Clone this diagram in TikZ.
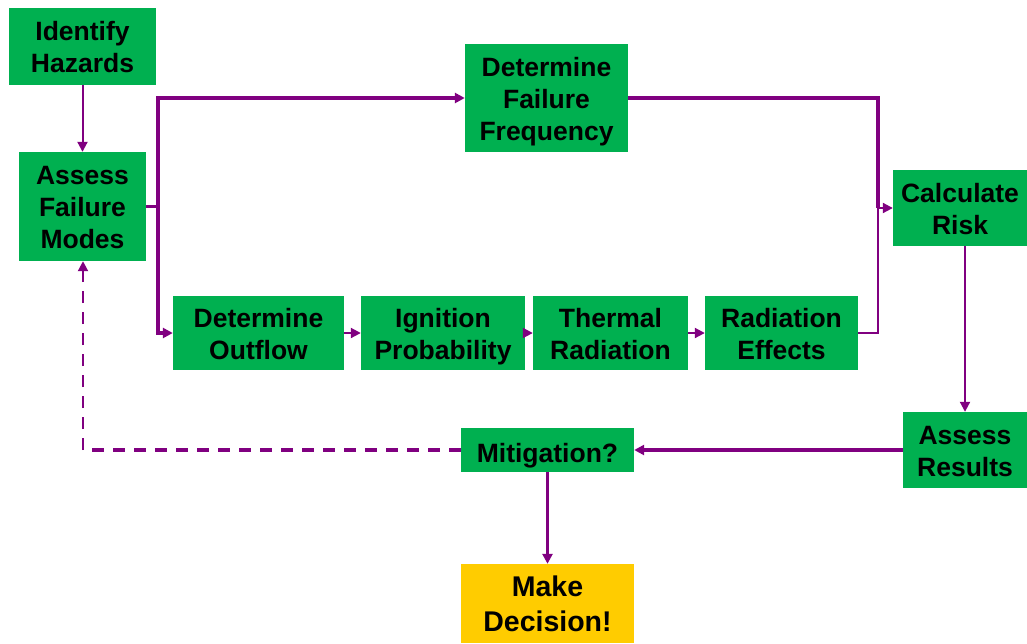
\documentclass[tikz,border=0pt]{standalone}
\usepackage{fontspec}
\setmainfont{Liberation Sans}
\usetikzlibrary{arrows.meta}
\definecolor{boxgreen}{HTML}{00B050}
\definecolor{flowpurple}{HTML}{800080}
\definecolor{decyellow}{HTML}{FFCC00}
\newcommand\topfix{\rule{0pt}{26pt}}
\newcommand\botfix{\rule[-6pt]{0pt}{6pt}}
\newcommand\topfixbig{\rule{0pt}{28pt}}
\newcommand\botfixbig{\rule[-6.6pt]{0pt}{6.6pt}}
\tikzset{
  stepbox/.style={fill=boxgreen, draw=none, inner sep=0pt, align=center,
    font=\fontsize{26.5}{32}\selectfont\bfseries},
  decbox/.style={fill=decyellow, draw=none, inner sep=0pt, align=center,
    font=\fontsize{28.5}{35}\selectfont\bfseries},
  thick flow/.style={draw=flowpurple, line width=3.5pt},
  thin flow/.style={draw=flowpurple, line width=2pt},
  tip/.style={-{Triangle[length=10pt,width=10pt]}},
}
\begin{document}
\begin{tikzpicture}[x=1pt,y=-1pt]
\useasboundingbox (0,0) rectangle (1027,643);
\node[stepbox, minimum width=147pt, minimum height=77pt] (ih) at (82.5,46.5) {\topfix Identify\\Hazards\botfix};
\node[stepbox, minimum width=127pt, minimum height=109pt] (afm) at (82.5,206.5) {\topfix Assess\\Failure\\Modes\botfix};
\node[stepbox, minimum width=163pt, minimum height=108pt] (dff) at (546.5,98) {\topfix Determine\\Failure\\Frequency\botfix};
\node[stepbox, minimum width=171pt, minimum height=74pt] (do) at (258.5,333) {\topfix Determine\\Outflow\botfix};
\node[stepbox, minimum width=164pt, minimum height=74pt] (ip) at (443,333) {\topfix Ignition\\Probability\botfix};
\node[stepbox, minimum width=155pt, minimum height=74pt] (tr) at (610.5,333) {\topfix Thermal\\Radiation\botfix};
\node[stepbox, minimum width=153pt, minimum height=74pt] (re) at (781.5,333) {\topfix Radiation\\Effects\botfix};
\node[stepbox, minimum width=134pt, minimum height=76pt] (cr) at (960,208) {\topfix Calculate\\Risk\botfix};
\node[stepbox, minimum width=124pt, minimum height=76pt] (ar) at (965,450) {\topfix Assess\\Results\botfix};
\node[stepbox, minimum width=173pt, minimum height=44pt] (mit) at (547.5,450) {\rule{0pt}{30pt}Mitigation?\botfix};
\node[decbox, minimum width=173pt, minimum height=79pt] (md) at (547.5,603.5) {\topfixbig Make\\Decision!\botfixbig};

\coordinate (split) at (158,206.5);
\coordinate (join) at (878,208);
\coordinate (back) at (83,450);

\draw[thin flow, tip] (ih) -- (afm);
\draw[thick flow] (afm.east) -- (split);
\draw[thick flow, tip] (split) |- (dff.west);
\draw[thick flow, tip] (split) |- (do.west);
\draw[thin flow, tip] (do) -- (ip);
\draw[thin flow, tip] (ip) -- (tr);
\draw[thin flow, tip] (tr) -- (re);
\draw[thick flow] (dff.east) -| (join);
\draw[thin flow] (re.east) -| (join);
\draw[thin flow, tip] (join) -- (cr.west);
\draw[thin flow, tip] (cr.south -| ar.north) -- (ar.north);
\draw[thick flow, tip] (ar.west) -- (mit.east);
\draw[thick flow, tip] (mit) -- (md);
\draw[thick flow, dash pattern=on 12pt off 9pt] (mit.west) -- (back);
\draw[thin flow, dash pattern=on 12pt off 9pt, tip] (back) -- (afm.south -| back);
\end{tikzpicture}
\end{document}
